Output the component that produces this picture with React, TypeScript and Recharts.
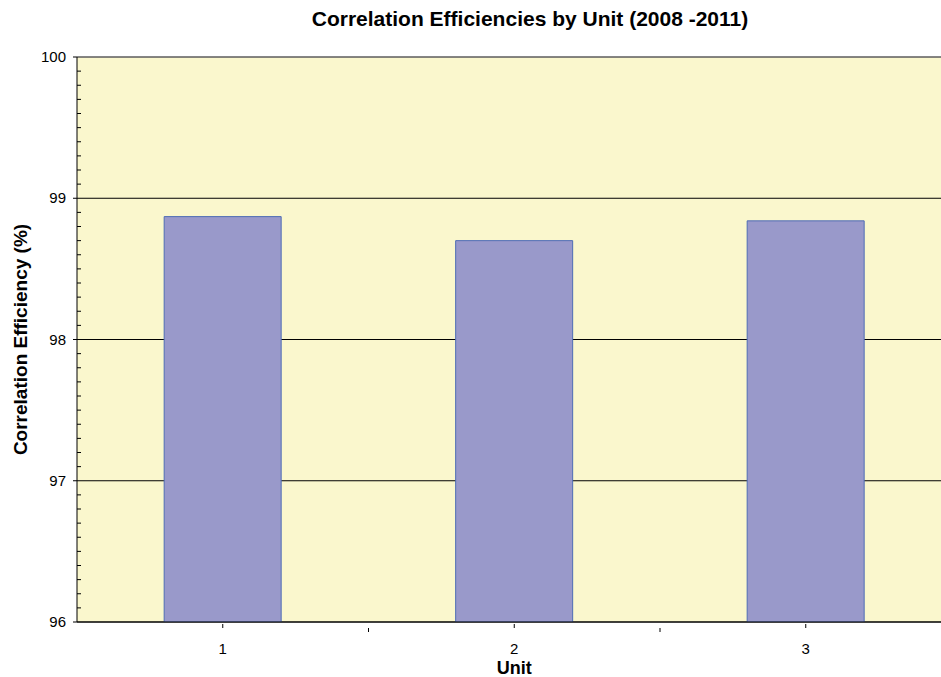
import React from "react";
import {
  BarChart,
  Bar,
  XAxis,
  YAxis,
  CartesianGrid,
  ReferenceLine,
  Label,
} from "recharts";

const units = ["1", "2", "3"];
const efficiency = [98.87, 98.7, 98.84];
const yTicks = [
  96, 96.1, 96.2, 96.3, 96.4, 96.5, 96.6, 96.7, 96.8, 96.9, 97, 97.1, 97.2,
  97.3, 97.4, 97.5, 97.6, 97.7, 97.8, 97.9, 98, 98.1, 98.2, 98.3, 98.4, 98.5,
  98.6, 98.7, 98.8, 98.9, 99, 99.1, 99.2, 99.3, 99.4, 99.5, 99.6, 99.7, 99.8,
  99.9, 100,
];
const majorTicks = [96, 97, 98, 99, 100];

const data = units.map((u, i) => ({ unit: u, value: efficiency[i] }));

const W = 941;
const H = 677;
// plot area runs a little past the right edge of the image, like the original
const margin = { top: 57, right: -10.5, bottom: 0, left: 17 };
const yAxisWidth = 60;
const plotWidth = W - margin.left - yAxisWidth - margin.right;
const halfBand = plotWidth / units.length / 2;
const font = "'Liberation Sans', Arial, sans-serif";

const YTick = (props: any) => {
  const { x, y, payload } = props;
  const axisX = x + 6;
  const v = Math.round(payload.value * 10) / 10;
  const major = Number.isInteger(v);
  if (!major) {
    return <line x1={axisX} x2={axisX + 4} y1={y} y2={y} stroke="#000" />;
  }
  return (
    <g>
      <line x1={axisX - 4} x2={axisX} y1={y} y2={y} stroke="#000" />
      <text
        x={axisX - 11}
        y={y}
        dy={5}
        textAnchor="end"
        fontSize={15}
        fontFamily={font}
        fill="#000"
      >
        {v}
      </text>
    </g>
  );
};

const XTick = (props: any) => {
  const { x, y, payload, index } = props;
  const axisY = y - 2;
  return (
    <g>
      <line x1={x} x2={x} y1={axisY - 4} y2={axisY} stroke="#000" />
      {index < units.length - 1 && (
        <line
          x1={x + halfBand}
          x2={x + halfBand}
          y1={axisY}
          y2={axisY + 4}
          stroke="#000"
        />
      )}
      <text
        x={x}
        y={axisY + 26}
        textAnchor="middle"
        fontSize={15}
        fontFamily={font}
        fill="#000"
      >
        {payload.value}
      </text>
    </g>
  );
};

export default function App() {
  return (
    <div
      style={{
        position: "absolute",
        left: 0,
        top: 0,
        width: W,
        height: H,
        overflow: "hidden",
        background: "#fff",
        fontFamily: font,
      }}
    >
      <div
        style={{
          position: "absolute",
          top: 7,
          left: 0,
          width: W,
          paddingLeft: 119,
          boxSizing: "border-box",
          textAlign: "center",
          fontSize: 21,
          fontWeight: "bold",
        }}
      >
        Correlation Efficiencies by Unit (2008 -2011)
      </div>
      <BarChart
        width={W}
        height={H}
        data={data}
        margin={margin}
        barCategoryGap="29.9%"
      >
        <CartesianGrid
          vertical={false}
          horizontal
          horizontalValues={majorTicks}
          stroke="#000"
          strokeOpacity={1}
          fill="#FAF7CD"
          fillOpacity={1}
        />
        <ReferenceLine y={100} stroke="#8a8a8a" />
        <XAxis
          dataKey="unit"
          axisLine={{ stroke: "#000" }}
          tickLine={false}
          tick={<XTick />}
          interval={0}
          height={55}
        >
          <Label
            value="Unit"
            position="insideBottom"
            offset={3}
            style={{ fontSize: 18, fontWeight: "bold", fill: "#000", fontFamily: font }}
          />
        </XAxis>
        <YAxis
          type="number"
          domain={[96, 100]}
          ticks={yTicks}
          interval={0}
          allowDataOverflow
          width={yAxisWidth}
          axisLine={{ stroke: "#000" }}
          tickLine={false}
          tickSize={4}
          tickMargin={2}
          tick={<YTick />}
        >
          <Label
            value="Correlation Efficiency (%)"
            angle={-90}
            position="insideLeft"
            offset={3}
            style={{
              fontSize: 19,
              fontWeight: "bold",
              fill: "#000",
              fontFamily: font,
              textAnchor: "middle",
            }}
          />
        </YAxis>
        <Bar
          dataKey="value"
          fill="#9999CA"
          stroke="#4E6CB5"
          strokeWidth={1}
          isAnimationActive={false}
        />
      </BarChart>
    </div>
  );
}
